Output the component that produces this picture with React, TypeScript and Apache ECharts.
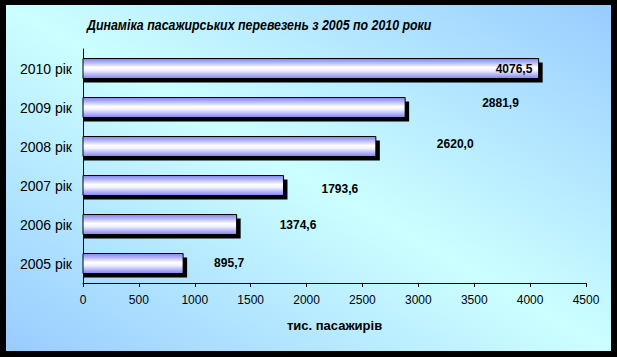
import React, { useEffect, useRef } from "react";
import * as echarts from "echarts";

const categories = ["2005 рік", "2006 рік", "2007 рік", "2008 рік", "2009 рік", "2010 рік"];
const passengers = [895.7, 1374.6, 1793.6, 2620.0, 2881.9, 4076.5];
const xTicks = { min: 0, max: 4500, interval: 500 };
const titleText = "Динаміка пасажирських перевезень з 2005 по 2010 роки";
const axisName = "тис. пасажирів";
// label placement (style): horizontal shift from bar end, vertical shift from bar centre
const labelShiftX = [31, 43, 38, 61, 77, -43];
const labelShiftY = [-1, 0, 3, -3, -5, 0];

export default function App() {
  const ref = useRef<HTMLDivElement>(null);
  useEffect(() => {
    document.body.style.margin = "0";
    if (!ref.current) return;
    const chart = echarts.init(ref.current, null, { renderer: "svg" });
    const barGradient = new echarts.graphic.LinearGradient(0, 0, 0, 1, [
      { offset: 0, color: "#8282ee" },
      { offset: 0.2, color: "#b4b4f8" },
      { offset: 0.45, color: "#ffffff" },
      { offset: 0.6, color: "#f0f0ff" },
      { offset: 0.85, color: "#aaaaf6" },
      { offset: 1, color: "#8282ee" },
    ]);
    chart.setOption({
      animation: false,
      backgroundColor: "transparent",
      graphic: [
        {
          type: "text",
          x: 87,
          y: 25,
          scaleX: 0.885,
          style: {
            text: titleText,
            font: "italic bold 14px Arial, 'Liberation Sans'",
            fill: "#000",
            align: "left",
            verticalAlign: "middle",
          },
        },
      ],
      grid: { left: 83, right: 31, top: 49, bottom: 74, containLabel: false },
      xAxis: {
        type: "value",
        min: xTicks.min,
        max: xTicks.max,
        interval: xTicks.interval,
        axisLine: { show: true, lineStyle: { color: "#000", width: 1 } },
        axisTick: { show: true, length: 4, lineStyle: { color: "#000" } },
        splitLine: { show: false },
        axisLabel: {
          color: "#000",
          fontSize: 12,
          fontFamily: "Arial, Liberation Sans",
          margin: 11,
          formatter: (v: number) => String(v),
        },
        name: axisName,
        nameLocation: "middle",
        nameGap: 36,
        nameTextStyle: { color: "#000", fontSize: 13, fontWeight: "bold", fontFamily: "Arial, Liberation Sans" },
      },
      yAxis: {
        type: "category",
        data: categories,
        axisLine: { show: true, lineStyle: { color: "#000", width: 1 } },
        axisTick: { show: false },
        splitLine: { show: false },
        axisLabel: { color: "#000", fontSize: 14, fontFamily: "Arial, Liberation Sans", margin: 11 },
      },
      series: [
        {
          type: "custom",
          encode: { x: 0, y: 1 },
          data: passengers.map((v, i) => [v, i]),
          renderItem: (params: any, api: any) => {
            const v = api.value(0);
            const idx = api.value(1);
            const end = api.coord([v, idx]);
            const start = api.coord([0, idx]);
            const h = 20;
            const y0 = end[1] - h / 2;
            const w = end[0] - start[0];
            return {
              type: "group",
              children: [
                {
                  type: "rect",
                  shape: { x: start[0] + 1, y: y0 + 4, width: w + 3, height: h },
                  style: { fill: "#000" },
                },
                {
                  type: "rect",
                  shape: { x: start[0], y: y0, width: w, height: h },
                  style: { fill: barGradient, stroke: "#000", lineWidth: 1 },
                },
                {
                  type: "text",
                  x: end[0] + labelShiftX[idx],
                  y: end[1] + labelShiftY[idx],
                  style: {
                    text: v.toFixed(1).replace(".", ","),
                    font: "bold 12px Arial, 'Liberation Sans'",
                    fill: "#000",
                    align: "left",
                    verticalAlign: "middle",
                  },
                },
              ],
            };
          },
        },
      ],
    });
    return () => chart.dispose();
  }, []);
  return (
    <div style={{ position: "relative", width: 617, height: 357, background: "#000" }}>
      <div
        style={{
          position: "absolute",
          left: 6,
          top: 5,
          width: 605,
          height: 346,
          background: "linear-gradient(to top right, #99ccff 0%, #ccffff 50%, #99ccff 100%)",
        }}
      />
      <div ref={ref} style={{ position: "absolute", left: 0, top: 0, width: 617, height: 357 }} />
    </div>
  );
}
